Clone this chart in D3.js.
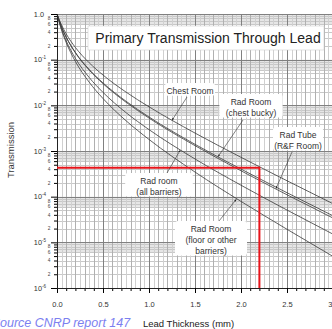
<!DOCTYPE html>
<html>
<head>
<meta charset="utf-8">
<script src="https://cdn.jsdelivr.net/npm/d3@7"></script>
<style>
  body { margin: 0; background: #fff; }
  svg text { font-family: "Liberation Sans", Arial, sans-serif; }
</style>
</head>
<body>
<svg id="chart" width="332" height="329"></svg>
<script>
// values (lead thickness in mm, transmission)
const thickness     = [0, 0.05, 0.1, 0.2, 0.35, 0.5, 0.75, 1.0, 1.5, 2.0, 2.5, 3.0];
const chestRoom     = [1, 0.570, 0.367, 0.185, 0.0856, 0.0461, 0.0195, 0.00928, 0.00247, 0.000727, 0.000223, 0.0000700];
const chestBucky    = [1, 0.519, 0.313, 0.144, 0.0611, 0.0310, 0.0123, 0.00556, 0.00140, 0.000402, 0.000122, 0.0000381];
const rfRoom        = [1, 0.514, 0.308, 0.141, 0.0591, 0.0298, 0.0117, 0.00526, 0.00131, 0.000369, 0.000110, 0.0000340];
const allBarriers   = [1, 0.463, 0.258, 0.107, 0.0407, 0.0192, 0.00693, 0.00294, 0.000670, 0.000178, 0.0000509, 0.0000151];
const floorBarriers = [1, 0.442, 0.237, 0.0914, 0.0321, 0.0141, 0.00461, 0.00179, 0.000346, 0.0000787, 0.0000193, 0.00000491];

const xTicks = [0, 0.5, 1.0, 1.5, 2.0, 2.5, 3.0];
const decades = [1, 1e-1, 1e-2, 1e-3, 1e-4, 1e-5, 1e-6];
const decadeLabels = ["1.0", "-1", "-2", "-3", "-4", "-5", "-6"];
const minorLabels = [8, 6, 4, 2];

// the red reading lines
const readThickness = 2.2;
const readTransmission = 0.00043;

let svg = d3.select("#chart");

let x = d3.scaleLinear().domain([0, 3]).range([57, 333]);
let y = d3.scaleLog().domain([1e-6, 1]).range([288, 14]);

// gray bands under each decade line
svg.append("g").selectAll("rect")
    .data(decades.slice(0, 6))
    .enter().append("rect")
    .attr("x", x(0))
    .attr("width", x(3) - x(0))
    .attr("y", d => y(d))
    .attr("height", d => y(d * 0.6) - y(d))
    .attr("fill", "#e6e6e6");

// grid
let minorY = [];
decades.slice(1).forEach(d => { for (let m = 2; m <= 9; m++) minorY.push(d * m); });

let grid = svg.append("g").attr("shape-rendering", "crispEdges");
grid.selectAll(".hmin").data(minorY).enter().append("line")
    .attr("x1", x(0)).attr("x2", x(3))
    .attr("y1", d => Math.round(y(d)) + 0.5).attr("y2", d => Math.round(y(d)) + 0.5)
    .attr("stroke", "#c8c8c8");

let vLines = d3.range(1, 61).map(i => i * 0.05);
grid.selectAll(".vmin").data(vLines).enter().append("line")
    .attr("x1", d => Math.round(x(d)) + 0.5).attr("x2", d => Math.round(x(d)) + 0.5)
    .attr("y1", y(1)).attr("y2", y(1e-6))
    .attr("stroke", (d, i) => (i + 1) % 10 === 0 ? "#808080" : ((i + 1) % 2 === 0 ? "#b0b0b0" : "#d0d0d0"));

grid.selectAll(".hmaj").data(decades).enter().append("line")
    .attr("x1", x(0)).attr("x2", x(3))
    .attr("y1", d => Math.round(y(d)) + 0.5).attr("y2", d => Math.round(y(d)) + 0.5)
    .attr("stroke", "#808080");

// curves
let series = [chestRoom, chestBucky, rfRoom, allBarriers, floorBarriers];
let line = d3.line()
    .x((d, i) => x(thickness[i]))
    .y(d => y(d))
    .curve(d3.curveMonotoneX);

svg.append("g").selectAll("path")
    .data(series)
    .enter().append("path")
    .attr("d", line)
    .attr("fill", "none")
    .attr("stroke", "#3a3a3a")
    .attr("stroke-width", 0.8);

// axes
let xAxisMinor = d3.axisBottom(x).tickValues(d3.range(0, 31).map(i => i / 10)).tickSize(3).tickFormat("");
let xAxis = d3.axisBottom(x).tickValues(xTicks).tickSize(5).tickFormat(d3.format(".1f"));

svg.append("g").attr("transform", "translate(0,288)").call(xAxisMinor)
    .call(g => g.select(".domain").remove());
let gx = svg.append("g").attr("transform", "translate(0,288)").call(xAxis);
gx.select(".domain").attr("stroke", "#222");
gx.selectAll("text").attr("font-size", 7.5).attr("fill", "#333").attr("y", 17).attr("dy", "0.32em");

let minorTickVals = [];
decades.slice(1).forEach(d => { for (let m = 2; m <= 9; m++) minorTickVals.push(d * m); });
svg.append("g").attr("transform", "translate(57,0)")
    .call(d3.axisLeft(y).tickValues(minorTickVals).tickSize(3).tickFormat(""))
    .call(g => g.select(".domain").remove());
let gy = svg.append("g").attr("transform", "translate(57,0)")
    .call(d3.axisLeft(y).tickValues(decades).tickSize(6).tickFormat(""));
gy.select(".domain").attr("stroke", "#222");

// decade labels
decades.forEach((d, i) => {
    let t = svg.append("text")
        .attr("x", 46)
        .attr("y", y(d) + 2.5)
        .attr("text-anchor", "end")
        .attr("font-size", 7.3)
        .attr("fill", "#333");
    if (i === 0) {
        t.attr("x", 44).text(decadeLabels[i]);
    } else {
        t.append("tspan").text("10");
        t.append("tspan").attr("font-size", 4.5).attr("dy", -3).text(decadeLabels[i]);
    }
});

// small labels 8 6 4 2 in each decade
decades.slice(1).forEach(d => {
    minorLabels.forEach(m => {
        svg.append("text")
            .attr("x", 49)
            .attr("y", y(d * m) + 1.7)
            .attr("text-anchor", "middle")
            .attr("font-size", 4.8)
            .attr("fill", "#444")
            .text(m);
    });
});

// red reading lines
svg.append("path")
    .attr("d", "M" + x(0) + "," + y(readTransmission) + "H" + x(readThickness) + "V" + y(1e-6))
    .attr("fill", "none")
    .attr("stroke", "#e8141b")
    .attr("stroke-width", 2);

// title
svg.append("rect")
    .attr("x", 88).attr("y", 26).attr("width", 236).attr("height", 24)
    .attr("fill", "#fff").attr("stroke", "#d0d0d0").attr("stroke-width", 0.6);
svg.append("text")
    .attr("x", 208).attr("y", 43)
    .attr("text-anchor", "middle")
    .attr("font-size", 14)
    .attr("fill", "#222")
    .text("Primary Transmission Through Lead");

// curve labels with arrows
let notes = [
    { lines: ["Chest Room"], cx: 190, cy: 91, tail: [187, 97], tip: [1.25, 0.0047] },
    { lines: ["Rad Room", "(chest bucky)"], cx: 251, cy: 102, tail: [243, 120], tip: [1.75, 0.00075] },
    { lines: ["Rad Tube", "(R&F Room)"], cx: 298, cy: 135, tail: [292, 152], tip: [2.38, 0.00015] },
    { lines: ["Rad room", "(all barriers)"], cx: 159, cy: 181, tail: [167, 173], tip: [1.34, 0.00105] },
    { lines: ["Rad Room", "(floor or other", "barriers)"], cx: 211, cy: 229, tail: [219, 221], tip: [1.95, 0.000088] }
];

svg.append("defs").append("marker")
    .attr("id", "arr")
    .attr("viewBox", "0 0 10 10")
    .attr("refX", 10).attr("refY", 5)
    .attr("markerWidth", 4).attr("markerHeight", 4)
    .attr("orient", "auto")
    .append("path").attr("d", "M0,1L10,5L0,9Z").attr("fill", "#222");

notes.forEach(n => {
    svg.append("line")
        .attr("x1", n.tail[0]).attr("y1", n.tail[1])
        .attr("x2", x(n.tip[0])).attr("y2", y(n.tip[1]))
        .attr("stroke", "#333").attr("stroke-width", 0.6)
        .attr("marker-end", "url(#arr)");
    let w = d3.max(n.lines, s => s.length) * 4.4 + 6;
    let h = n.lines.length * 10.8 + 2;
    svg.append("rect")
        .attr("x", n.cx - w / 2).attr("y", n.cy - 8)
        .attr("width", w).attr("height", h)
        .attr("rx", 3)
        .attr("fill", "#fff");
    n.lines.forEach((s, i) => {
        svg.append("text")
            .attr("x", n.cx).attr("y", n.cy + 3 + i * 10.8)
            .attr("text-anchor", "middle")
            .attr("font-size", 8.5)
            .attr("fill", "#333")
            .text(s);
    });
});

// axis titles
svg.append("text")
    .attr("transform", "translate(14,150)rotate(-90)")
    .attr("text-anchor", "middle")
    .attr("font-size", 9.5)
    .attr("fill", "#333")
    .text("Transmission");

svg.append("text")
    .attr("x", 143).attr("y", 327)
    .attr("font-size", 9.5)
    .attr("fill", "#222")
    .text("Lead Thickness (mm)");

svg.append("text")
    .attr("x", -8.3).attr("y", 327)
    .attr("font-size", 12.5)
    .attr("font-style", "italic")
    .attr("fill", "#7c7ff0")
    .text("Source CNRP report 147");
</script>
</body>
</html>
